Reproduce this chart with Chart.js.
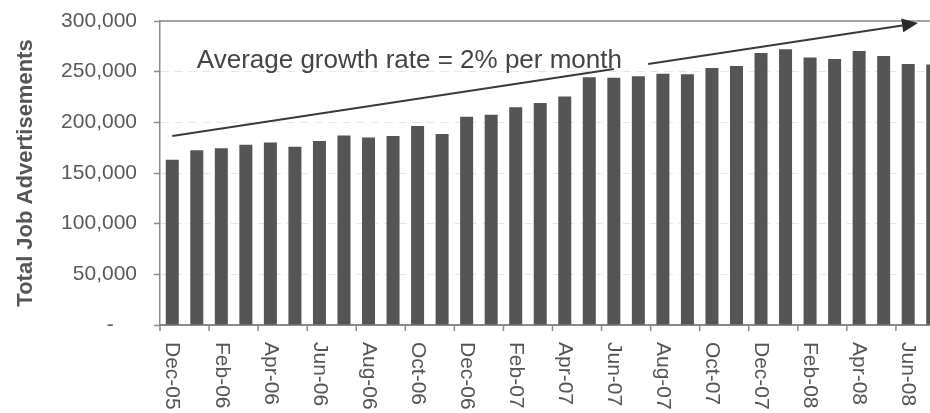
<!DOCTYPE html>
<html>
<head>
<meta charset="utf-8">
<script src="https://cdn.jsdelivr.net/npm/chart.js@4.4.1/dist/chart.umd.min.js"></script>
<style>
    html, body { margin: 0; padding: 0; background: #fff; overflow: hidden; }
    #wrap { width: 930px; height: 413px; overflow: hidden; }
</style>
</head>
<body>
<div id="wrap"><canvas id="jobsChart" width="945" height="413"></canvas></div>
<script>
// Tháng (Dec-05 .. Jul-08)
const months = [
    'Dec-05', 'Jan-06', 'Feb-06', 'Mar-06', 'Apr-06', 'May-06', 'Jun-06', 'Jul-06',
    'Aug-06', 'Sep-06', 'Oct-06', 'Nov-06', 'Dec-06', 'Jan-07', 'Feb-07', 'Mar-07',
    'Apr-07', 'May-07', 'Jun-07', 'Jul-07', 'Aug-07', 'Sep-07', 'Oct-07', 'Nov-07',
    'Dec-07', 'Jan-08', 'Feb-08', 'Mar-08', 'Apr-08', 'May-08', 'Jun-08', 'Jul-08'
];

// Tổng số tin tuyển dụng
const jobAds = [
    163000, 172500, 174500, 178000, 180000, 176000, 181500, 187000,
    185000, 186500, 196500, 188500, 205500, 207500, 215000, 219000,
    225500, 244500, 244000, 245500, 248000, 247500, 253500, 255500,
    268500, 272000, 264000, 262500, 270500, 265500, 257500, 257000
];

// Trục Y
const yTicks = [0, 50000, 100000, 150000, 200000, 250000, 300000];

// Mũi tên xu hướng (chỉ số tháng, giá trị)
const trendIdx = [0, 30.4];
const trendVal = [186500, 298000];
const trendGap = [18, 19.4];
const noteText = 'Average growth rate = 2% per month';
const noteAt = [1, 253500];

const FONT = '"Liberation Sans", Arial, sans-serif';

function fmtTick(v) {
    if (v === 0) return '-    ';
    return v.toLocaleString('en-US');
}

// Vẽ thêm: khung trên, vạch trục X, nhãn X, mũi tên
const decorPlugin = {
    id: 'decor',
    afterDatasetsDraw(chart) {
        const { ctx, chartArea, scales: { x, y } } = chart;
        const step = x.getPixelForValue(1) - x.getPixelForValue(0);

        ctx.save();

        // khung trên
        ctx.strokeStyle = '#8a8a8a';
        ctx.lineWidth = 1.5;
        ctx.beginPath();
        ctx.moveTo(chartArea.left, chartArea.top);
        ctx.lineTo(chartArea.right, chartArea.top);
        ctx.stroke();

        // vạch chia trục X mỗi 2 tháng
        ctx.strokeStyle = '#8a8a8a';
        ctx.lineWidth = 1.5;
        for (let i = 0; i <= months.length; i += 2) {
            const px = x.getPixelForValue(i) - step / 2;
            ctx.beginPath();
            ctx.moveTo(px, chartArea.bottom);
            ctx.lineTo(px, chartArea.bottom + 6);
            ctx.stroke();
        }

        // nhãn tháng (xoay 90 độ)
        ctx.fillStyle = '#555';
        ctx.font = '21px ' + FONT;
        ctx.textAlign = 'left';
        ctx.textBaseline = 'middle';
        for (let i = 0; i < months.length; i += 2) {
            ctx.save();
            ctx.translate(x.getPixelForValue(i), chartArea.bottom + 17);
            ctx.rotate(Math.PI / 2);
            ctx.fillText(months[i], 0, 0);
            ctx.restore();
        }

        // mũi tên xu hướng
        const x0 = x.getPixelForValue(trendIdx[0]), y0 = y.getPixelForValue(trendVal[0]);
        const x1 = x.getPixelForValue(trendIdx[1]), y1 = y.getPixelForValue(trendVal[1]);
        const at = t => {
            const f = (t - trendIdx[0]) / (trendIdx[1] - trendIdx[0]);
            return [x0 + (x1 - x0) * f, y0 + (y1 - y0) * f];
        };
        const ang = Math.atan2(y1 - y0, x1 - x0);
        const headLen = 16, headW = 7;
        const bx = x1 - Math.cos(ang) * headLen, by = y1 - Math.sin(ang) * headLen;
        const g0 = at(trendGap[0]), g1 = at(trendGap[1]);

        ctx.strokeStyle = '#3a3a3a';
        ctx.lineWidth = 2;
        ctx.beginPath();
        ctx.moveTo(x0, y0);
        ctx.lineTo(g0[0], g0[1]);
        ctx.moveTo(g1[0], g1[1]);
        ctx.lineTo(bx, by);
        ctx.stroke();

        ctx.fillStyle = '#2a2a2a';
        ctx.beginPath();
        ctx.moveTo(x1, y1);
        ctx.lineTo(bx + Math.sin(ang) * headW, by - Math.cos(ang) * headW);
        ctx.lineTo(bx - Math.sin(ang) * headW, by + Math.cos(ang) * headW);
        ctx.closePath();
        ctx.fill();

        // chú thích
        ctx.fillStyle = '#444';
        ctx.font = '26px ' + FONT;
        ctx.textAlign = 'left';
        ctx.textBaseline = 'alphabetic';
        ctx.fillText(noteText, x.getPixelForValue(noteAt[0]), y.getPixelForValue(noteAt[1]));

        ctx.restore();
    }
};

const jobsChart = new Chart(document.getElementById('jobsChart'), {
    type: 'bar',
    data: {
        labels: months,
        datasets: [{
            label: 'Total Job Advertisements',
            data: jobAds,
            backgroundColor: '#555555',
            borderWidth: 0,
            categoryPercentage: 1,
            barPercentage: 0.53
        }]
    },
    options: {
        responsive: false,
        animation: false,
        layout: {
            padding: { left: 0, right: 0, top: 21, bottom: 88 }
        },
        plugins: {
            legend: { display: false },
            tooltip: { enabled: false }
        },
        scales: {
            x: {
                ticks: { display: false },
                grid: { display: false, drawTicks: false },
                border: { display: true, color: '#8a8a8a', width: 2 },
                afterFit: s => { s.height = 0; s.paddingLeft = 0; s.paddingRight = 0; }
            },
            y: {
                min: 0,
                max: 300000,
                afterBuildTicks: s => { s.ticks = yTicks.map(v => ({ value: v })); },
                ticks: {
                    padding: 17,
                    color: '#5a5a5a',
                    font: { family: FONT, size: 21 },
                    callback: v => fmtTick(v)
                },
                grid: {
                    color: '#e6e6e6',
                    lineWidth: 1,
                    tickLength: 6,
                    tickColor: '#8a8a8a',
                    tickWidth: 1.5
                },
                border: { display: true, color: '#8a8a8a', width: 1.5, dash: [8, 6] },
                title: {
                    display: true,
                    text: 'Total Job Advertisements',
                    color: '#555',
                    font: { family: FONT, size: 22, weight: 'bold' },
                    padding: { top: 13, bottom: 0 }
                },
                afterFit: s => { s.width = 160; s.paddingTop = 0; s.paddingBottom = 0; }
            }
        }
    },
    plugins: [decorPlugin]
});
</script>
</body>
</html>
